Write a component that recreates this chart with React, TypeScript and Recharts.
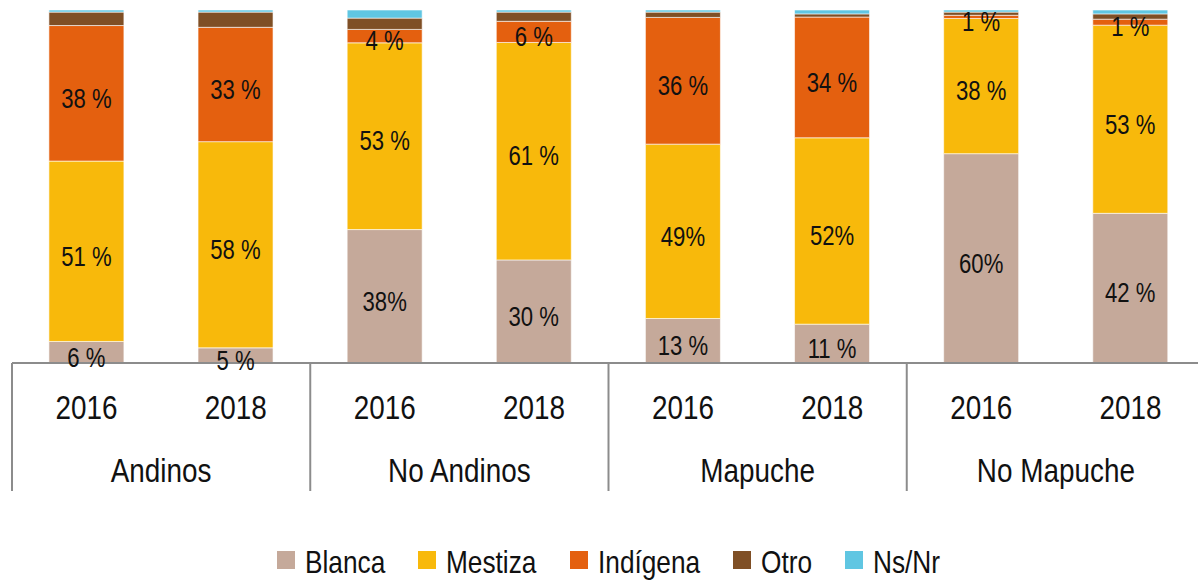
import { Bar, BarChart, LabelList, Legend, XAxis, YAxis } from 'recharts';

const GROUPS = ['Andinos', 'No Andinos', 'Mapuche', 'No Mapuche'];
const YEARS = ['2016', '2018'];

// porcentajes, por barra (grupo x anio)
const BLANCA = [6.1, 4.3, 37.8, 29.2, 12.6, 11.0, 59.3, 42.4];
const MESTIZA = [51.1, 58.4, 52.9, 61.6, 49.4, 52.8, 38.3, 53.3];
const INDIGENA = [38.4, 32.4, 3.8, 6.0, 35.9, 34.2, 0.9, 1.7];
const OTRO = [3.8, 4.3, 3.2, 2.6, 1.5, 0.9, 0.9, 1.5];
const NSNR = [0.6, 0.6, 2.3, 0.6, 0.6, 1.1, 0.6, 1.1];

const BLANCA_LABELS = ['6 %', '5 %', '38%', '30 %', '13 %', '11 %', '60%', '42 %'];
const MESTIZA_LABELS = ['51 %', '58 %', '53 %', '61 %', '49%', '52%', '38 %', '53 %'];
const INDIGENA_LABELS = ['38 %', '33 %', '4 %', '6 %', '36 %', '34 %', '1 %', '1 %'];

const SERIES = [
    { key: 'blanca', name: 'Blanca', color: '#c5a99a', values: BLANCA, labels: BLANCA_LABELS },
    { key: 'mestiza', name: 'Mestiza', color: '#f8b90b', values: MESTIZA, labels: MESTIZA_LABELS },
    { key: 'indigena', name: 'Indígena', color: '#e4600f', values: INDIGENA, labels: INDIGENA_LABELS },
    { key: 'otro', name: 'Otro', color: '#7f4f25', values: OTRO, labels: null },
    { key: 'nsnr', name: 'Ns/Nr', color: '#60c6e2', values: NSNR, labels: null },
];

const data = GROUPS.flatMap((group, g) =>
    YEARS.map((year, y) => {
        const i = g * YEARS.length + y;
        const row: Record<string, string | number> = { id: `${group}-${year}`, group, year };
        SERIES.forEach((s) => {
            row[s.key] = s.values[i];
            if (s.labels) row[`${s.key}Label`] = s.labels[i];
        });
        return row;
    }),
);

// Arial Narrow no esta instalada: Liberation Sans comprimida horizontalmente
const FONT = "'Liberation Sans', Arial, sans-serif";
const NARROW = 0.82;
const CHART_W = 1210;
const CHART_H = 580;
const MARGIN = { top: 10, right: 5, bottom: 0, left: 12 };
const BAND = (CHART_W - MARGIN.left - MARGIN.right) / data.length;
const AXIS_GRAY = '#8c8c8c';

let measureCtx: CanvasRenderingContext2D | null = null;
function textWidth(text: string, size: number): number {
    if (!measureCtx) measureCtx = document.createElement('canvas').getContext('2d');
    if (!measureCtx) return text.length * size * 0.5;
    measureCtx.font = `${size}px ${FONT}`;
    return measureCtx.measureText(text).width;
}

function NarrowText({ x, y, size, children }: { x: number; y: number; size: number; children: any }) {
    return (
        <text
            transform={`translate(${x},${y}) scale(${NARROW},1)`}
            textAnchor="middle"
            dominantBaseline="central"
            fontSize={size}
            fontFamily={FONT}
            fill="#111"
        >
            {children}
        </text>
    );
}

function renderLabel(props: any) {
    const vb = props.viewBox || props;
    const h = vb.height || 0;
    const top = h < 0 ? vb.y + h : vb.y;
    return (
        <NarrowText x={vb.x + vb.width / 2} y={top + Math.abs(h) / 2 + 5} size={27}>
            {props.value}
        </NarrowText>
    );
}

function renderTick(props: any) {
    const { x, y, index } = props;
    const row = data[index];
    const first = index % YEARS.length === 0;
    return (
        <g>
            <NarrowText x={x} y={y + 45} size={34}>
                {row ? row.year : ''}
            </NarrowText>
            {first && (
                <>
                    <line x1={x - BAND / 2} y1={y} x2={x - BAND / 2} y2={y + 128} stroke={AXIS_GRAY} strokeWidth={2} />
                    <NarrowText x={x + BAND / 2} y={y + 108} size={34}>
                        {row ? row.group : ''}
                    </NarrowText>
                </>
            )}
        </g>
    );
}

function renderLegend() {
    const size = 32;
    return (
        <div style={{ height: 50, boxSizing: 'border-box', paddingTop: 14, paddingLeft: 0, display: 'flex', justifyContent: 'center', alignItems: 'center', fontFamily: FONT, fontSize: size, color: '#111' }}>
            {SERIES.map((s, i) => {
                const w = textWidth(s.name, size) * NARROW;
                return (
                    <span key={s.key} style={{ display: 'flex', alignItems: 'center', marginRight: i < SERIES.length - 1 ? 33 : 0 }}>
                        <span style={{ display: 'inline-block', width: 18, height: 18, background: s.color, marginRight: 10, marginTop: -4 }} />
                        <span style={{ display: 'inline-block', width: w, whiteSpace: 'nowrap' }}>
                            <span style={{ display: 'inline-block', transform: `scaleX(${NARROW})`, transformOrigin: 'left center' }}>{s.name}</span>
                        </span>
                    </span>
                );
            })}
        </div>
    );
}

export default function App() {
    return (
        <div style={{ position: 'absolute', left: 0, top: 0, width: 1198, height: 580, overflow: 'hidden', background: '#fff' }}>
            <BarChart width={CHART_W} height={CHART_H} data={data} margin={MARGIN} barCategoryGap="24.75%">
                <XAxis
                    dataKey="id"
                    interval={0}
                    height={167}
                    tickLine={false}
                    tickSize={0}
                    tickMargin={0}
                    tick={renderTick}
                    axisLine={{ stroke: AXIS_GRAY, strokeWidth: 2 }}
                />
                <YAxis hide domain={[0, 100]} />
                <Legend verticalAlign="bottom" height={50} content={renderLegend} />
                {SERIES.map((s) => (
                    <Bar key={s.key} dataKey={s.key} name={s.name} stackId="a" fill={s.color} stroke="#ffffff" strokeWidth={0.6} isAnimationActive={false}>
                        {s.labels && <LabelList dataKey={`${s.key}Label`} content={renderLabel} />}
                    </Bar>
                ))}
            </BarChart>
        </div>
    );
}
